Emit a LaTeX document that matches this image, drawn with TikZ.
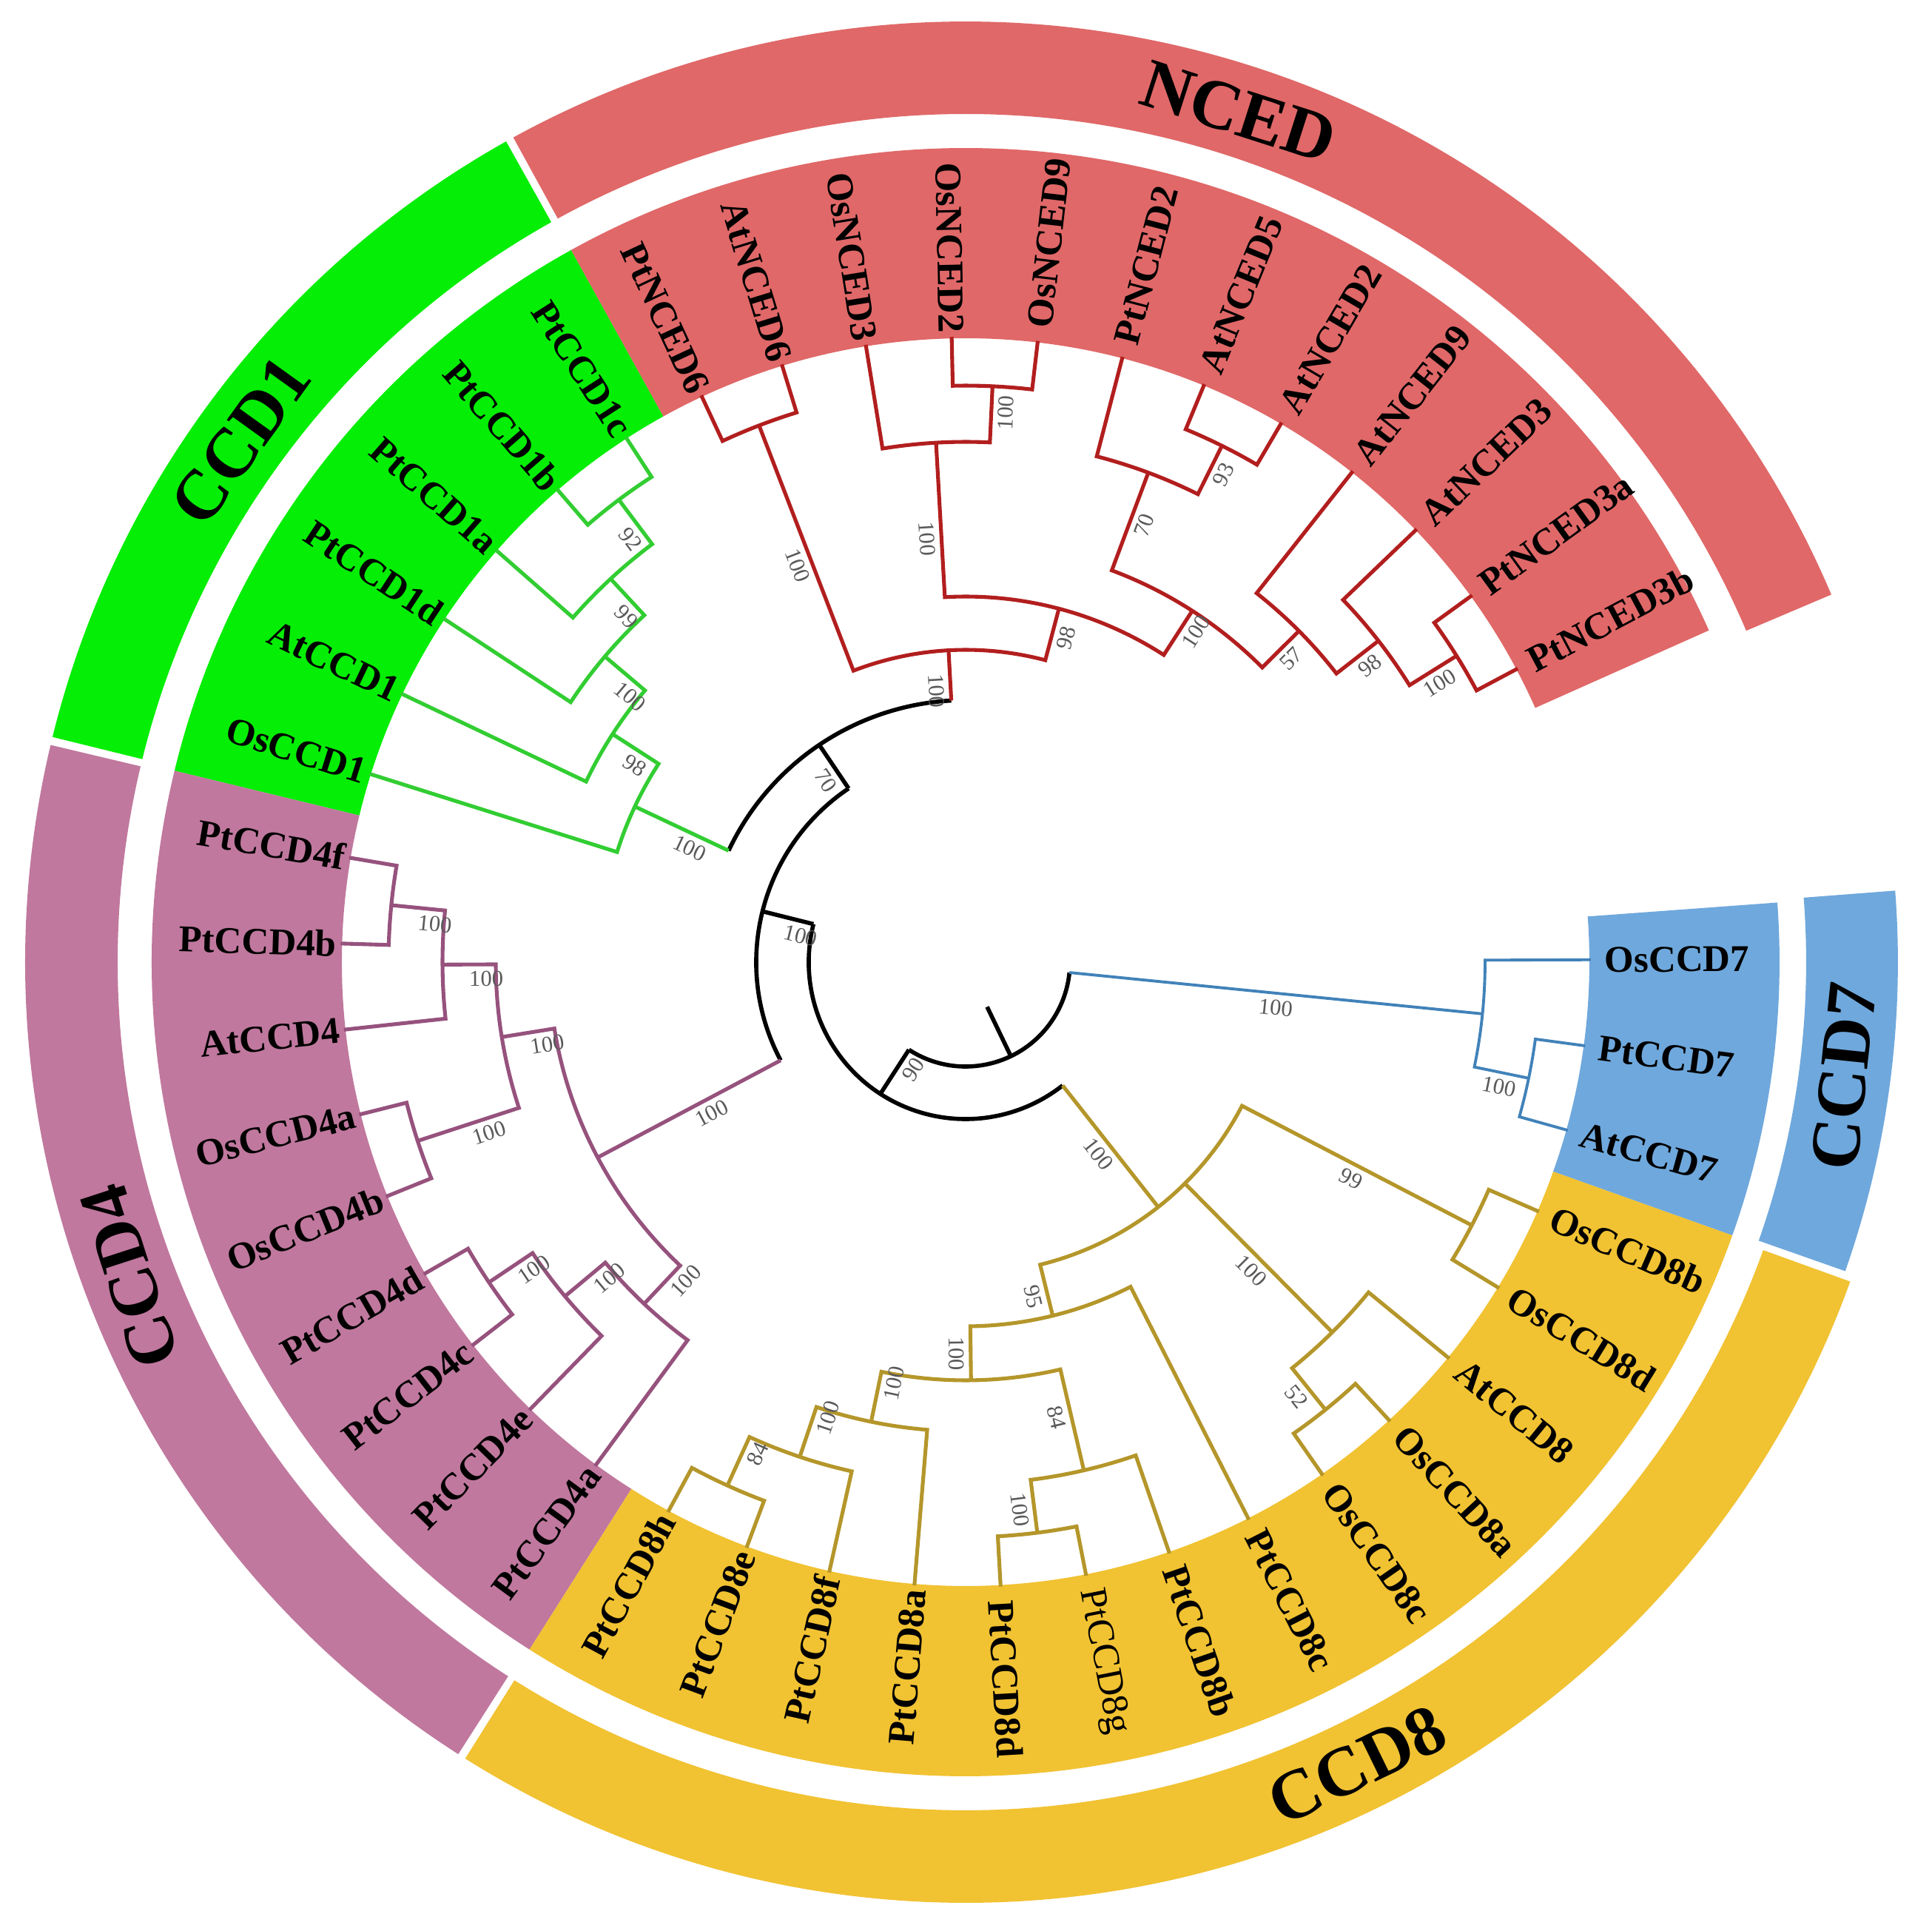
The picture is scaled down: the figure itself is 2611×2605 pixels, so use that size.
\documentclass[tikz,border=0pt]{standalone}
\usepackage{fontspec}
\setmainfont{Liberation Serif}
\usepackage{tikz}
\definecolor{ncedfill}{RGB}{224,104,104}
\definecolor{ncedline}{RGB}{178,30,30}
\definecolor{onefill}{RGB}{5,238,5}
\definecolor{oneline}{RGB}{50,205,50}
\definecolor{fourfill}{RGB}{192,120,158}
\definecolor{fourline}{RGB}{150,82,125}
\definecolor{sevenfill}{RGB}{111,168,220}
\definecolor{sevenline}{RGB}{65,130,185}
\definecolor{eightfill}{RGB}{241,194,50}
\definecolor{eightline}{RGB}{180,150,42}

\def\tip{845}
\def\sector[#1](#2:#3){\fill[#1] (#2:843) arc (#2:#3:843) -- (#3:1100) arc (#3:#2:1100) -- cycle;}
\def\band[#1](#2:#3:#4:#5){\fill[#1] (#2:#4) arc (#2:#3:#4) -- (#3:#5) arc (#3:#2:#5) -- cycle;}
\def\clade(#1)(#2:#3)(#4:#5){\draw (#2:#3) -- (#2:#1) arc (#2:#4:#1) -- (#4:#5);}
\newcommand{\leaf}[3][\bfseries]{%
  \pgfmathsetmacro\ang{28+7.91*#2}%
  \pgfmathtruncatemacro\flip{cos(\ang)<0}%
  \ifnum\flip=1
    \pgfmathsetmacro\rot{\ang-180}%
    \node[tiplabel, rotate=\rot, anchor=east] (#3) at (\ang:\tip) {#1 #3};%
  \else
    \node[tiplabel, rotate=\ang, anchor=west] (#3) at (\ang:\tip) {#1 #3};%
  \fi}
\newcommand{\bsv}[4]{%
  \pgfmathtruncatemacro\flip{cos(#2)<0}%
  \ifnum\flip=1 \pgfmathsetmacro\rot{#2-180}\else\pgfmathsetmacro\rot{#2}\fi
  \node[bootlabel, rotate=\rot, anchor=north] (#1) at (#2:#3) {#4};}

\begin{document}
\begin{tikzpicture}[x=0.01cm, y=0.01cm,
    branch/.style={line width=1.45pt},
    tiplabel/.style={font=\fontsize{14.5}{16}\selectfont, inner sep=1.5pt},
    bootlabel/.style={font=\fontsize{8.7}{10}\selectfont, text=black!65, inner sep=2.4pt},
    cladetext/.style={font=\fontsize{27}{30}\selectfont\bfseries}]
		%%%%% START %%%%%
		\useasboundingbox (-1305,-1305) rectangle (1306,1300);
		\fill[white] (-1305,-1305) rectangle (1306,1300);
		
		% label sectors
		\sector[ncedfill](24.05:119.0)
		\sector[onefill](119.0:166.4)
		\sector[fourfill](166.4:237.6)
		\sector[eightfill](237.6:340.4)
		\sector[sevenfill](340.4:364.2)
		
		% outer bands
		\band[ncedfill](23.0:118.75:1146:1271)
		\band[onefill](119.25:166.15:1146:1271)
		\band[fourfill](166.65:237.35:1146:1271)
		\band[eightfill](237.85:340.15:1146:1271)
		\band[sevenfill](340.65:364.4:1136:1260)
		
		% backbone
		\begin{scope}[branch, line width=1.6pt]
		\draw (295.68:67) -- (295.68:141);
		\draw (237.075:141) arc (237.075:354.29:141);
		\draw (237.075:141) -- (237.075:212);
		\draw (165.96:212) arc (165.96:308.19:212);
		\draw (165.96:212) -- (165.96:283);
		\draw (123.97:283) arc (123.97:207.955:283);
		\draw (123.97:283) -- (123.97:354);
		\draw (93.135:354) arc (93.135:154.81:354);
		\end{scope}
		
		% NCED
		\begin{scope}[branch, ncedline]
		\draw (93.135:354) -- (93.135:422);
		\clade(422)(75.215:494)(111.055:777)
		\clade(777)(107.10:\tip)(115.01:\tip)
		\clade(494)(57.17:565)(93.26:703)
		\clade(703)(87.325:779)(99.19:\tip)
		\clade(779)(83.37:\tip)(91.28:\tip)
		\clade(565)(44.81:635)(69.53:706)
		\clade(706)(63.595:779)(75.46:\tip)
		\clade(779)(59.64:\tip)(67.55:\tip)
		\clade(635)(37.89:707)(51.73:\tip)
		\clade(707)(31.955:782)(43.82:\tip)
		\clade(782)(28.00:\tip)(35.91:\tip)
		\end{scope}
		
		% CCD1
		\begin{scope}[branch, oneline]
		\draw (154.81:354) -- (154.81:494);
		\clade(494)(147.145:568)(162.47:\tip)
		\clade(568)(139.73:639)(154.56:\tip)
		\clade(639)(132.81:706)(146.65:\tip)
		\clade(706)(126.875:781)(138.74:\tip)
		\clade(781)(122.92:\tip)(130.83:\tip)
		\end{scope}
		
		% CCD4
		\begin{scope}[branch, fourline]
		\draw (207.955:283) -- (207.955:563);
		\clade(563)(189.17:635)(226.74:634)
		\clade(635)(180.27:707)(198.065:779)
		\clade(707)(174.335:780)(186.20:\tip)
		\clade(780)(170.38:\tip)(178.29:\tip)
		\clade(779)(194.11:\tip)(202.02:\tip)
		\clade(634)(219.82:705)(233.66:\tip)
		\clade(705)(213.885:776)(225.75:\tip)
		\clade(776)(209.93:\tip)(217.84:\tip)
		\end{scope}
		
		% CCD8
		\begin{scope}[branch, eightline]
		\draw (308.19:212) -- (308.19:421);
		\clade(421)(283.84:492)(332.535:771)
		\draw (314.74:421) -- (314.74:704);
		\clade(771)(328.58:\tip)(336.49:\tip)
		\clade(704)(308.805:776)(320.67:\tip)
		\clade(776)(304.85:\tip)(312.76:\tip)
		\clade(492)(270.74:565)(296.94:\tip)
		\clade(565)(258.38:634)(283.10:705)
		\clade(705)(277.165:777)(289.03:\tip)
		\clade(777)(273.21:\tip)(281.12:\tip)
		\clade(634)(251.46:705)(265.30:\tip)
		\clade(705)(245.525:777)(257.39:\tip)
		\clade(777)(241.57:\tip)(249.48:\tip)
		\end{scope}
		
		% CCD7
		\begin{scope}[branch, sevenline, line width=1.1pt]
		\draw (354.29:141) -- (354.29:702);
		\clade(702)(348.355:777)(360.22:\tip)
		\clade(777)(344.40:\tip)(352.31:\tip)
		\end{scope}
		
		% leaf names
		\leaf{0}{PtNCED3b} \leaf{1}{PtNCED3a} \leaf{2}{AtNCED3} \leaf{3}{AtNCED9}
		\leaf{4}{AtNCED2} \leaf{5}{AtNCED5} \leaf{6}{PtNCED2} \leaf{7}{OsNCED9}
		\leaf{8}{OsNCED2} \leaf{9}{OsNCED3} \leaf{10}{AtNCED6} \leaf{11}{PtNCED6}
		\leaf{12}{PtCCD1c} \leaf{13}{PtCCD1b} \leaf{14}{PtCCD1a} \leaf{15}{PtCCD1d}
		\leaf{16}{AtCCD1} \leaf{17}{OsCCD1}
		\leaf{18}{PtCCD4f} \leaf{19}{PtCCD4b} \leaf{20}{AtCCD4} \leaf{21}{OsCCD4a}
		\leaf{22}{OsCCD4b} \leaf{23}{PtCCD4d} \leaf{24}{PtCCD4c} \leaf{25}{PtCCD4e}
		\leaf{26}{PtCCD4a}
		\leaf{27}{PtCCD8h} \leaf{28}{PtCCD8e} \leaf{29}{PtCCD8f} \leaf{30}{PtCCD8a}
		\leaf{31}{PtCCD8d} \leaf[\mdseries]{32}{PtCCD8g} \leaf{33}{PtCCD8b} \leaf{34}{PtCCD8c}
		\leaf{35}{OsCCD8c} \leaf{36}{OsCCD8a} \leaf{37}{AtCCD8} \leaf{38}{OsCCD8d}
		\leaf{39}{OsCCD8b}
		\leaf{40}{AtCCD7} \leaf{41}{PtCCD7} \leaf{42}{OsCCD7}
		
		% bootstrap values
		\bsv{b1}{93.135}{368}{100} \bsv{b2}{75.215}{458}{98} \bsv{b3}{93.26}{574}{100}
		\bsv{b4}{87.325}{744}{100} \bsv{b5}{57.17}{544}{100} \bsv{b6}{69.53}{637}{70}
		\bsv{b7}{63.595}{745}{93} \bsv{b8}{44.81}{601}{57} \bsv{b9}{37.89}{677}{98}
		\bsv{b10}{31.955}{743}{100} \bsv{b11}{111.055}{582}{100}
		\bsv{b12}{154.81}{403}{100} \bsv{b13}{147.145}{520}{98} \bsv{b14}{139.73}{578}{100}
		\bsv{b15}{132.81}{654}{99} \bsv{b16}{126.875}{729}{92}
		\bsv{b17}{123.97}{309}{70} \bsv{b18}{165.96}{225}{100} \bsv{b19}{237.075}{160}{90}
		\bsv{b20}{174.335}{719}{100} \bsv{b21}{180.27}{648}{100} \bsv{b22}{198.065}{684}{100}
		\bsv{b23}{189.17}{576}{100} \bsv{b24}{213.885}{716}{100} \bsv{b25}{219.82}{643}{100}
		\bsv{b26}{226.74}{573}{100} \bsv{b27}{207.955}{399}{100}
		\bsv{b28}{354.29}{423}{100} \bsv{b29}{348.355}{740}{100}
		\bsv{b30}{308.19}{315}{100} \bsv{b31}{314.74}{568}{100} \bsv{b32}{308.805}{738}{52}
		\bsv{b33}{332.535}{597}{99} \bsv{b34}{283.84}{461}{95} \bsv{b35}{270.74}{529}{100}
		\bsv{b36}{283.10}{627}{84} \bsv{b37}{277.165}{743}{100} \bsv{b38}{258.38}{577}{100}
		\bsv{b39}{251.46}{643}{100} \bsv{b40}{245.525}{721}{84}
		
		% clade names
		\node[cladetext, rotate=-17.8] (nced) at (72.2:1207) {NCED};
		\node[cladetext, rotate=54.3] (ccd1) at (144.3:1207) {CCD1};
		\node[cladetext, rotate=108] (ccd4) at (200.6:1207) {CCD4};
		\node[cladetext, rotate=84] (ccd7) at (352.6:1197) {CCD7};
		\node[cladetext, rotate=26.0] (ccd8) at (296.0:1207) {CCD8};
		%%%%% END %%%%%
\end{tikzpicture}
\end{document}
